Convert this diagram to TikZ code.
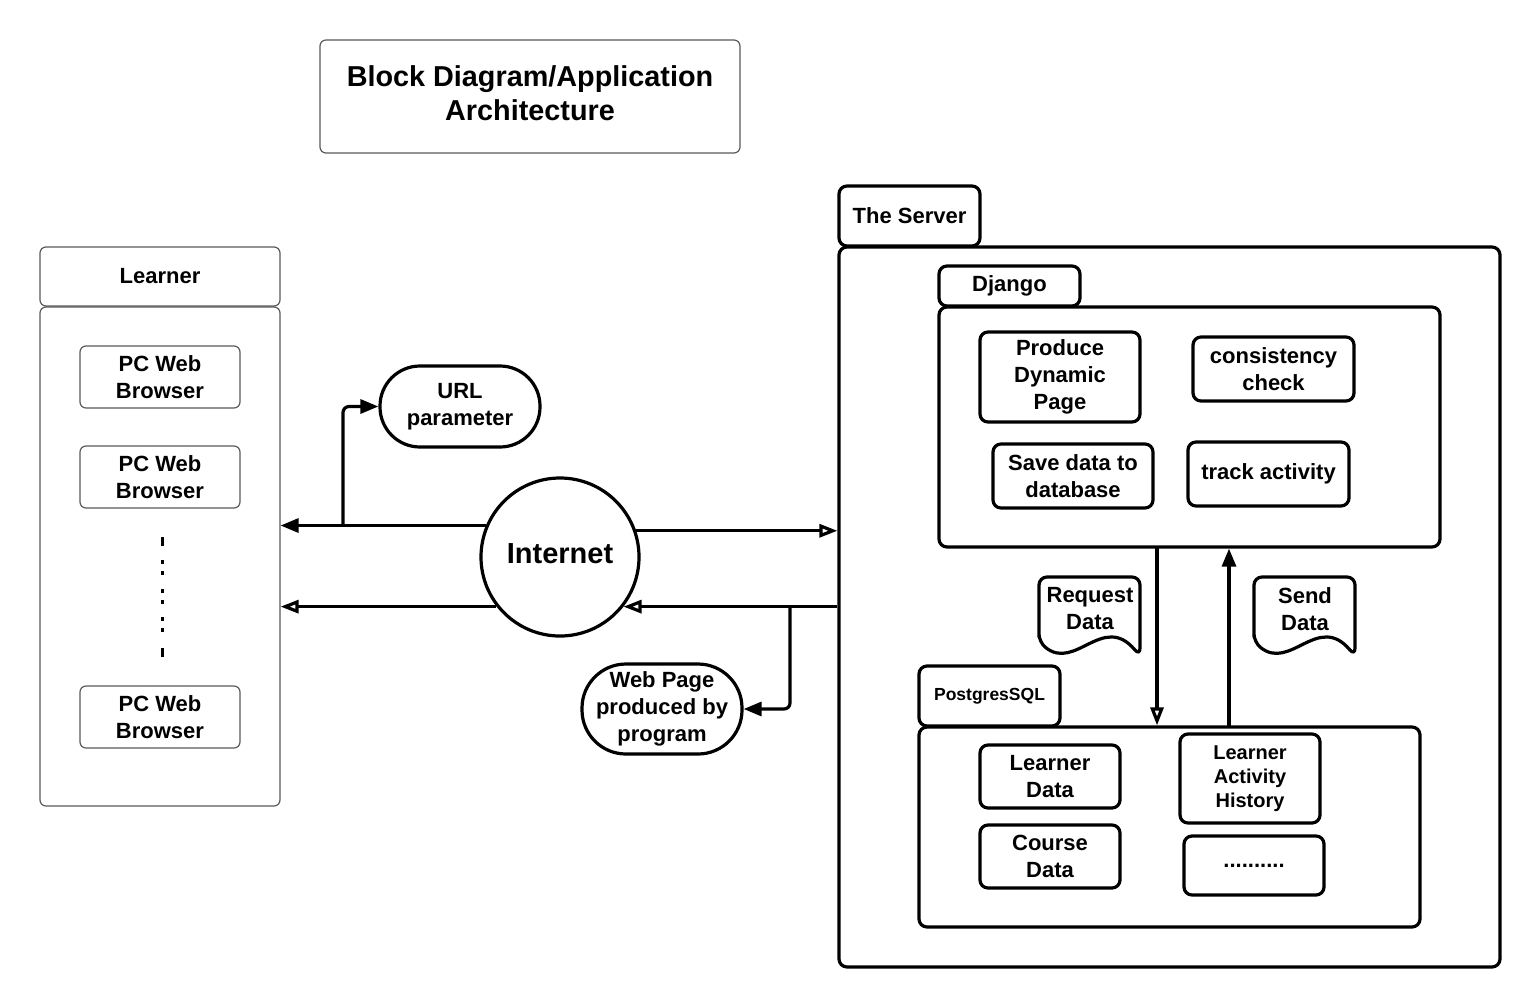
\documentclass[tikz,border=0pt]{standalone}
\usepackage{fontspec}
\setmainfont{Liberation Sans}
\usetikzlibrary{positioning, arrows.meta}

\begin{document}
\begin{tikzpicture} [x = 0.5pt, y = -0.5pt,
			font = \bfseries\fontsize{11}{13.5}\selectfont,
			thinbox/.style = {draw = black!65, line width = 0.6pt,
				rounded corners = 3pt, align = center, inner sep = 0pt
			},
			thickbox/.style = {draw = black, line width = 1.6pt,
				rounded corners = 4pt, align = center, inner sep = 0pt
			},
			stadium/.style = {thickbox, rounded corners = 20pt},
			fillarrow/.style = {-{Triangle[length = 9pt, width = 7pt]},
				line width = 1.6pt, rounded corners = 3pt
			},
			openarrow/.style = {-{Triangle[open, length = 9pt, width = 6.5pt]},
				line width = 1.6pt
			}
			]
			\useasboundingbox (0,0) rectangle (1540,1007);
			% Title
			\node (title) [thinbox, minimum width = 210pt, minimum height = 56.5pt,
				font = \bfseries\fontsize{14.4}{17}\selectfont] at (530,96.5)
				{Block Diagram/Application\\Architecture\vphantom{g}};
			% Learner side
			\node (learnerhead) [thinbox, minimum width = 120pt, minimum height = 29.5pt] at (160,276.5) {Learner};
			\node (learnerbody) [thinbox, minimum width = 120pt, minimum height = 249.5pt] at (160,556.5) {};
			\node (pc1) [thinbox, minimum width = 80pt, minimum height = 31pt] at (160,377) {PC Web\\Browser};
			\node (pc2) [thinbox, minimum width = 80pt, minimum height = 31pt] at (160,477) {PC Web\\Browser};
			\node (pc3) [thinbox, minimum width = 80pt, minimum height = 31pt] at (160,717) {PC Web\\Browser};
			\draw [line width = 1.5pt] (162,537) -- (162,546) (162,648) -- (162,657);
			\foreach \y in {562,573,591,602,619,630}
				\draw [line width = 1.5pt] (162,\y-2) -- (162,\y+2);
			% Internet
			\node (inet) [circle, draw, line width = 1.6pt, minimum size = 79pt,
				font = \bfseries\fontsize{14.5}{17}\selectfont] at (560,557) {Internet\vphantom{g}};
			\node (url) [stadium, minimum width = 80pt, minimum height = 40.5pt] at (460,406.5) {URL\\parameter};
			\node (webpage) [stadium, rounded corners = 22pt, minimum width = 80pt, minimum height = 45pt]
				at (662,709) {Web Page\\produced by\\program};
			% The Server
			\node (servertab) [thickbox, minimum width = 70.5pt, minimum height = 30pt] at (909.5,216) {The Server};
			\node (server) [thickbox, minimum width = 330.5pt, minimum height = 360pt] at (1169.5,607) {};
			\node (djangotab) [thickbox, minimum width = 70.5pt, minimum height = 20pt] at (1009.5,286) {Django};
			\node (django) [thickbox, minimum width = 250.5pt, minimum height = 120pt] at (1189.5,427) {};
			\node (produce) [thickbox, minimum width = 80pt, minimum height = 45pt] at (1060,377) {Produce\\Dynamic\\Page};
			\node (consist) [thickbox, minimum width = 80.5pt, minimum height = 32pt] at (1273.5,369) {consistency\\check};
			\node (save) [thickbox, minimum width = 80pt, minimum height = 32pt] at (1073,476) {Save data to\\database};
			\node (track) [thickbox, minimum width = 80.5pt, minimum height = 32pt] at (1268.5,474) {track activity};
			% Data documents
			\foreach \x/\name/\txt in {1039/request/{Request\\Data}, 1254/send/{Send\\Data}} {
				\draw [line width = 1.6pt, rounded corners = 4pt] (\x,642) -- (\x,577) -- (\x+101,577) -- (\x+101,656)
					.. controls (\x+64,612) and (\x+36,672) .. (\x,642) -- cycle;
				\node (\name) [align = center] at (\x+51,609) {\txt};
			}
			% PostgresSQL
			\node (pgtab) [thickbox, minimum width = 70.5pt, minimum height = 30pt,
				font = \bfseries\fontsize{8.75}{10}\selectfont] at (989.5,696) {PostgresSQL};
			\node (pg) [thickbox, minimum width = 250.5pt, minimum height = 100pt] at (1169.5,827) {};
			\node (learnerdata) [thickbox, minimum width = 70pt, minimum height = 31.5pt] at (1050,776.5) {Learner\\Data};
			\node (coursedata) [thickbox, minimum width = 70pt, minimum height = 31.5pt] at (1050,856.5) {Course\\Data};
			\node (history) [thickbox, minimum width = 70pt, minimum height = 44.5pt,
				font = \bfseries\fontsize{10}{12}\selectfont] at (1250,778.5) {Learner\\Activity\\History};
			\node (more) [thickbox, minimum width = 70pt, minimum height = 29.5pt] at (1254,865.5) {..........};
			% Connections
			\coordinate (urlsplit) at (343,526);
			\coordinate (pagesplit) at (790,607);
			\coordinate (reqdown) at (1157,547);
			\coordinate (sendup) at (1229,727);
			\draw [fillarrow] (inet.157) -- (inet.157 -| learnerbody.east);
			\draw [fillarrow] (urlsplit) |- (url.west);
			\draw [openarrow] (inet.19) -- (inet.19 -| server.west);
			\draw [openarrow] (inet.-38.7 -| server.west) -- (inet.-38.7);
			\draw [openarrow] (inet.218.7) -- (inet.218.7 -| learnerbody.east);
			\draw [fillarrow] (pagesplit) |- (webpage.east);
			\draw [openarrow] (reqdown) -- (reqdown |- pg.north);
			\draw [fillarrow] (sendup) -- (sendup |- django.south);
		\end{tikzpicture}
\end{document}
